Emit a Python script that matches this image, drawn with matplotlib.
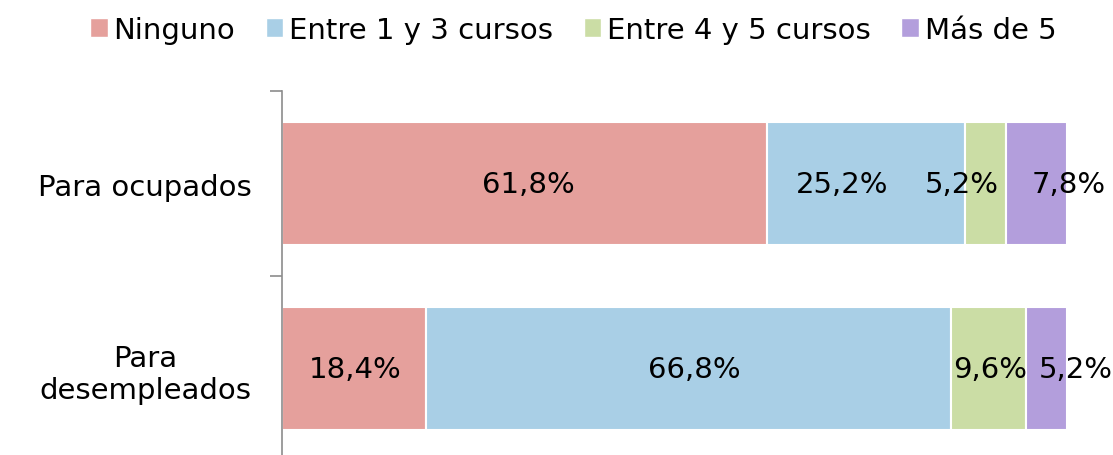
import numpy as np
import matplotlib
matplotlib.use("Agg")
import matplotlib.pyplot as plt
from matplotlib.patches import Patch

# data
categorias = ["Para ocupados", "Para\ndesempleados"]
series = ["Ninguno", "Entre 1 y 3 cursos", "Entre 4 y 5 cursos", "Más de 5"]
ninguno = [61.8, 18.4]
entre_1_3 = [25.2, 66.8]
entre_4_5 = [5.2, 9.6]
mas_de_5 = [7.8, 5.2]
valores = [ninguno, entre_1_3, entre_4_5, mas_de_5]

colores = ["#E5A09C", "#A9CFE6", "#CBDDA5", "#B39EDC"]
# desplazamiento horizontal de las etiquetas (puntos), como en el original
desplaz = [[3, 1], [-17, 4], [-17, 1], [23, 21]]

plt.rcParams['font.family'] = ['DejaVu Sans']
fs = 21

fig = plt.figure(figsize=(11.13, 4.56), dpi=100)
ax = fig.add_axes([0.2534, -0.0132, 0.7053, 0.8114])

y = np.arange(len(categorias))
left = np.zeros(len(categorias))
for i, (nombre, vals) in enumerate(zip(series, valores)):
    vals = np.array(vals)
    bars = ax.barh(y, vals, left=left, height=0.665, color=colores[i],
                   edgecolor="white", linewidth=1.5, label=nombre)
    for j, b in enumerate(bars):
        cx = b.get_x() + b.get_width() / 2
        cy = b.get_y() + b.get_height() / 2
        ax.annotate(f"{vals[j]:.1f}%".replace(".", ","), (cx, cy),
                    xytext=(desplaz[i][j], 0), textcoords="offset points",
                    ha="center", va="center", fontsize=fs, color="black")
    left += vals

ax.set_xlim(0, 100)
ax.set_ylim(1.5, -0.5)
ax.set_xticks([])
ax.set_yticks([-0.5, 0.5, 1.5])
ax.set_yticklabels([])
ax.set_yticks(y, minor=True)
ax.set_yticklabels(categorias, minor=True, fontsize=fs, multialignment="center")
ax.tick_params(axis="y", which="major", length=9, color="#8C8C8C", width=1.2)
ax.tick_params(axis="y", which="minor", length=0, pad=22)
for s in ["top", "right", "bottom"]:
    ax.spines[s].set_visible(False)
ax.spines["left"].set_color("#8C8C8C")
ax.spines["left"].set_linewidth(1.2)

handles = [Patch(facecolor=c, edgecolor="white") for c in colores]
fig.legend(handles, series, loc="center", bbox_to_anchor=(0.515, 0.932), ncol=4,
           frameon=False, fontsize=fs, handlelength=0.6, handleheight=0.6,
           handletextpad=0.2, columnspacing=1.05)

fig.savefig("out.png", dpi=100)
